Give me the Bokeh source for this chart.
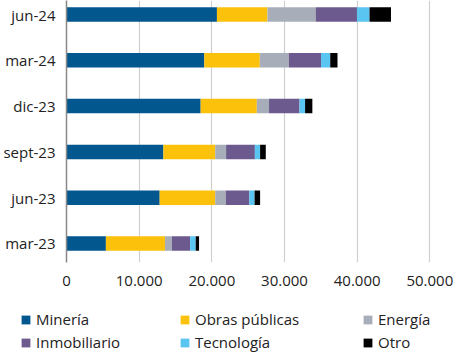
from bokeh.plotting import figure
from bokeh.models import Range1d, Legend, LegendItem, FixedTicker, ColumnDataSource
from bokeh.embed import file_html
from bokeh.resources import INLINE

categories = ["mar-23", "jun-23", "sept-23", "dic-23", "mar-24", "jun-24"]
series = ["Minería", "Obras públicas", "Energía", "Inmobiliario", "Tecnología", "Otro"]
mineria = [5420, 12820, 13330, 18460, 18960, 20700]
obras = [8130, 7640, 7130, 7730, 7640, 6950]
energia = [950, 1460, 1500, 1680, 4000, 6640]
inmobiliario = [2510, 3230, 3960, 4190, 4420, 5680]
tecnologia = [770, 730, 720, 770, 1270, 1730]
otro = [460, 760, 780, 1000, 1000, 2950]
x_ticks = [0, 10000, 20000, 30000, 40000, 50000]
x_tick_labels = ["0", "10.000", "20.000", "30.000", "40.000", "50.000"]
colors = ["#02578f", "#fbc10b", "#a8aeb9", "#6c5a8e", "#5bc5f2", "#000000"]

FONT = "Open Sans"
FS = "15px"

data = dict(y=list(range(len(categories))))
for name, vals in zip(series, [mineria, obras, energia, inmobiliario, tecnologia, otro]):
    data[name] = vals
source = ColumnDataSource(data)

p = figure(width=454, height=300, output_backend="svg", toolbar_location=None,
           x_range=Range1d(0, 50500), y_range=Range1d(-0.415, 5.306),
           min_border_left=63, min_border_right=21, min_border_top=0, min_border_bottom=38)
p.outline_line_color = None
p.background_fill_color = "white"

renderers = p.hbar_stack(series, y="y", height=0.317, color=colors, source=source, line_width=0)

p.xaxis.ticker = FixedTicker(ticks=x_ticks)
p.xaxis.major_label_overrides = {t: l for t, l in zip(x_ticks, x_tick_labels)}
p.xaxis.axis_line_color = None
p.xaxis.major_tick_line_color = None
p.xaxis.minor_tick_line_color = None
p.xaxis.major_label_standoff = 7
p.xaxis.major_label_text_font = FONT
p.xaxis.major_label_text_font_size = FS
p.xaxis.major_label_text_color = "#222222"

p.yaxis.ticker = FixedTicker(ticks=list(range(len(categories))))
p.yaxis.major_label_overrides = {i: c for i, c in enumerate(categories)}
p.yaxis.axis_line_color = "#888888"
p.yaxis.axis_line_width = 1.5
p.yaxis.major_tick_line_color = None
p.yaxis.minor_tick_line_color = None
p.yaxis.major_label_standoff = 5
p.yaxis.major_label_text_font = FONT
p.yaxis.major_label_text_font_size = FS
p.yaxis.major_label_text_color = "#222222"

p.ygrid.grid_line_color = None
p.xgrid.grid_line_color = "#d0d0d0"
p.xgrid.grid_line_width = 1.2

# legend figure (separate root, stacked below); swatch glyphs sit outside its visible range
lf = figure(width=454, height=52, output_backend="svg", toolbar_location=None,
            x_range=Range1d(0, 1), y_range=Range1d(0, 1),
            x_axis_type=None, y_axis_type=None,
            min_border_left=0, min_border_right=0, min_border_top=0, min_border_bottom=0)
lf.outline_line_color = None
lf.grid.visible = False
dummy = [lf.quad(left=[5], right=[6], top=[6], bottom=[5], color=c, line_width=0) for c in colors]

col_x = [20, 179, 362]
for ci in range(3):
    items = [LegendItem(label=series[ci], renderers=[dummy[ci]]),
             LegendItem(label=series[ci + 3], renderers=[dummy[ci + 3]])]
    leg = Legend(items=items, location=(col_x[ci], 0), orientation="vertical",
                 glyph_width=11, glyph_height=11, label_height=12, spacing=3,
                 label_standoff=5, padding=0, margin=0,
                 border_line_color=None, background_fill_alpha=0,
                 label_text_font=FONT, label_text_font_size=FS,
                 label_text_color="#222222")
    lf.add_layout(leg, "center")

open("out.html", "w").write(file_html([p, lf], INLINE))
